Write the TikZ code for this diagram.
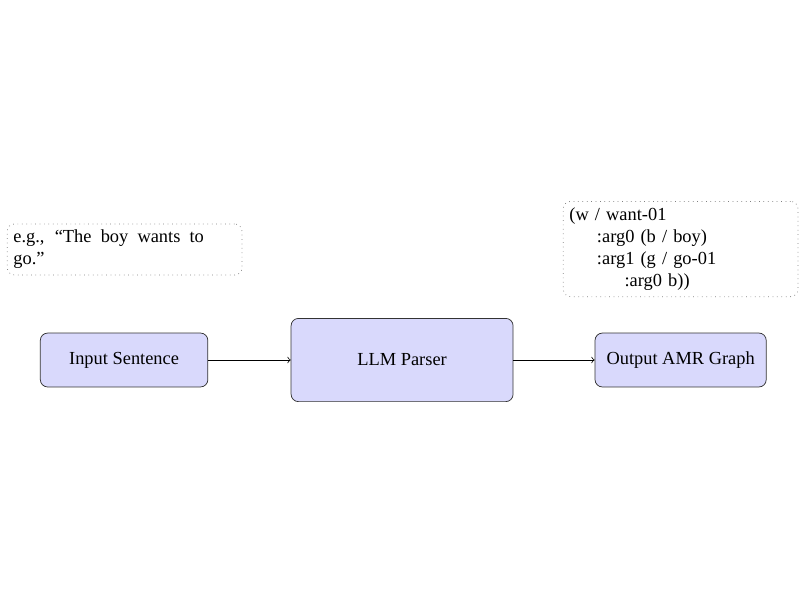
\documentclass[tikz,border=0pt]{standalone}
\usepackage{fontspec}
\setmainfont{Liberation Serif}
\usepackage{tikz}
\usepackage{xcolor}
\definecolor{boxfill}{RGB}{217,217,252}

\begin{document}
\begin{tikzpicture}[
  stage/.style={draw=black!80, fill=boxfill, rounded corners, align=center},
  note/.style={draw=gray, dotted, rounded corners, align=left, text width=4.25cm}
]
  % Page frame
  \useasboundingbox (0,0) rectangle (15.28,-11.46);

  % Pipeline stages
  \node[stage, minimum width=3.2cm, minimum height=1.03cm] (input) at (2.37,-6.876) {Input Sentence};
  \node[stage, minimum width=4.24cm, minimum height=1.59cm] (parser) at (7.68,-6.876) {LLM Parser};
  \node[stage, minimum width=3.27cm, minimum height=1.03cm] (output) at (13.0,-6.876) {Output AMR Graph};

  % Connections
  \draw[->] (input) -- (parser);
  \draw[->] (parser) -- (output);

  % Examples
  \node[note] (sentence) at (2.38,-4.765) {{\spaceskip=0.25em plus 1em\relax
    \makebox[3.64cm][s]{e.g., ``The boy wants to}}\\go.''};
  \node[note] (amr) at (13.0,-4.756) {(w / want-01\\
    \hspace*{1.5em}:arg0 (b / boy)\\
    \hspace*{1.5em}:arg1 (g / go-01\\
    \hspace*{3em}:arg0 b))};

\end{tikzpicture}
\end{document}
